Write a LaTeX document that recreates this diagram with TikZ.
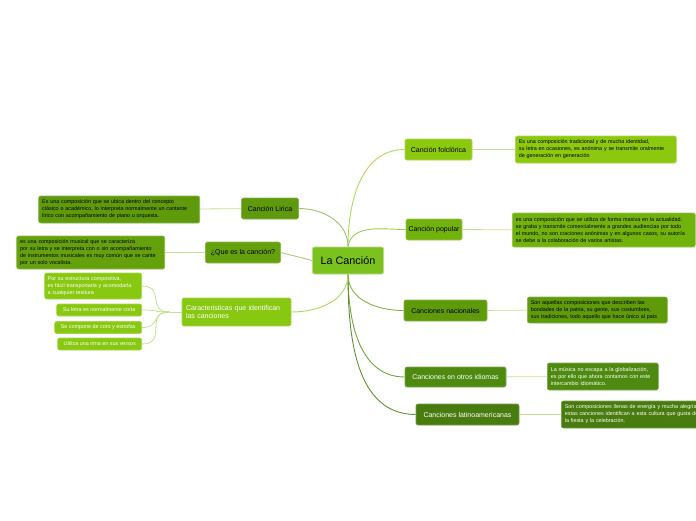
\documentclass[tikz,border=0pt]{standalone}
\usepackage{fontspec}
\setmainfont{Liberation Sans}
\usetikzlibrary{calc}
\definecolor{chub}{HTML}{7BC21E}
\definecolor{cfol}{HTML}{8CC80E}
\definecolor{cpop}{HTML}{72B20C}
\definecolor{cnac}{HTML}{5E9A0A}
\definecolor{cotr}{HTML}{4E8A10}
\definecolor{clat}{HTML}{487C0E}
\definecolor{clir}{HTML}{5E9A0C}
\definecolor{cque}{HTML}{65A10C}
\definecolor{ccar}{HTML}{88C810}
\definecolor{clnk}{HTML}{A6D462}
\tikzset{
 hub/.style={rectangle, rounded corners=2pt, draw=chub!55!white, line width=0.8pt, fill=chub,
 minimum width=71pt, minimum height=27pt, inner sep=0pt, font=\fontsize{10.8}{12}\selectfont},
 br/.style={rectangle, rounded corners=2pt, draw=#1!75!white, line width=0.6pt, fill=#1,
 minimum height=21pt, inner sep=0pt, align=center, font=\fontsize{7}{8.5}\selectfont},
 desc/.style={rectangle, rounded corners=2pt, draw=#1!75!white, line width=0.6pt, fill=#1,
 inner xsep=3.5pt, inner ysep=2pt, align=left, font=\fontsize{5.4}{7}\selectfont},
 sub/.style={rectangle, rounded corners=2pt, draw=ccar!75!white, line width=0.6pt, fill=ccar,
 text=white, inner xsep=3pt, inner ysep=2pt, align=left, font=\fontsize{5.4}{7}\selectfont},
 ln/.style={draw=#1, line width=0.9pt},
 lnd/.style={draw=clnk!70!white, line width=0.8pt},
}
\begin{document}
\begin{tikzpicture}[x=1pt, y=-1pt]
 \useasboundingbox (0,0) rectangle (696,520);
 \clip (0,0) rectangle (696,520);
 % centre
 \node[hub] (C) at (348,260.5) {La Canción};
 % right branches
 \node[br=cfol, minimum width=67pt] (F) at (438.5,149.5) {Canción folclórica};
 \node[br=cpop, minimum width=56pt] (P) at (434,229.5) {Canción popular};
 \node[br=cnac, minimum width=83pt] (N) at (445.5,310.5) {Canciones nacionales};
 \node[br=cotr, minimum width=101pt, minimum height=20pt, text=white] (O) at (455.5,377) {Canciones en otros idiomas};
 \node[br=clat, minimum width=103pt, text=white] (L) at (467.5,414.5) {Canciones latinoamericanas};
 % right descriptions
 \node[desc=cfol, text width=154pt, minimum height=27pt, anchor=west] (FD) at (515,149.5)
 {Es una composición tradicional y de mucha identidad,\\su letra en ocasiones, es anónima y se transmite oralmente\\de generación en generación};
 \node[desc=cpop, text width=176pt, minimum height=34pt, anchor=west] (PD) at (512,230)
 {es una composición que se utiliza de forma masiva en la actualidad.\\se graba y transmite comercialmente a grandes audiencias por todo\\el mundo, no son craciones anónimas y en algunos casos, su autoría\\se debe a la colaboración de varios artistas.};
 \node[desc=cnac, text width=133pt, minimum height=26pt, anchor=west] (ND) at (527,310)
 {Son aquellas composiciones que describen las\\bondades de la patria, su gente, sus costumbres,\\sus tradiciones, todo aquello que hace único al país};
 \node[desc=cotr, text width=104pt, minimum height=27pt, text=white, anchor=west] (OD) at (547,376.5)
 {La música no escapa a la globalización,\\es por ello que ahora contamos con este\\intercambio idiomático.};
 \node[desc=clat, text width=150pt, minimum height=27pt, text=white, anchor=west] (LD) at (561,414.5)
 {Son composiciones llenas de energía y mucha alegría,\\estas canciones identifican a esta cultura que gusta de\\la fiesta y la celebración.};
 % left branches
 \node[br=clir, minimum width=57pt] (K) at (270,208.5) {Canción Lirica};
 \node[br=cque, minimum width=75pt] (Q) at (243,252.5) {¿Que es la canción?};
 \node[br=ccar, minimum width=109pt, minimum height=28pt, text=white, align=left,
 text width=101pt, inner xsep=4pt] (R) at (236.5,312) {Caracteristicas que identifican\\las canciones};
 % left descriptions
 \node[desc=clir, text width=154pt, minimum height=27pt, anchor=east] (KD) at (200,209.5)
 {Es una composición que se ubica dentro del concepto\\clásico o académico, lo interpreta normalmente un cantante\\lírico con acompañamiento de piano u orquesta.};
 \node[desc=cque, text width=141pt, minimum height=33pt, anchor=east] (QD) at (165,252.5)
 {es una composición musical que se caracteriza\\por su letra y se interpreta con o sin acompañamiento\\de instrumentos musicales es muy común que se cante\\por un solo vocalista.};
 % features
 \node[sub, text width=91pt, minimum height=26pt, anchor=east] (R1) at (142,286)
 {Por su estructura compositiva,\\es fácil transportarla y acomodarla\\a cualquier tesitura};
 \node[sub, minimum width=85pt, minimum height=12pt, inner ysep=1pt, anchor=east] (R2) at (142,310) {Su letra es normalmente corta};
 \node[sub, minimum width=87pt, minimum height=12pt, inner ysep=1pt, anchor=east] (R3) at (142,327.5) {Se compone de coro y estrofas};
 \node[sub, minimum width=84pt, minimum height=12pt, inner ysep=1pt, anchor=east] (R4) at (142,344) {Utiliza una rima en sus versos};

 % links from the centre
 \draw[ln=cfol!70!white] (C.north) to[out=90,in=180] (F.west);
 \draw[ln=cpop!70!white] (C.north) to[out=80,in=180] (P.west);
 \draw[ln=cnac!75!white] (C.south) to[out=270,in=180] (N.west);
 \draw[ln=cotr!80!white] (C.south) to[out=270,in=180] (O.west);
 \draw[ln=clat!85!white] (C.south) to[out=270,in=180] (L.west);
 \draw[ln=clir!60!white] (K.east) to[out=0,in=90] (C.north);
 \draw[ln=cque!55!white] (Q.east) -- (C.west);
 \draw[ln=ccar!70!white] (R.east) to[out=0,in=270] (C.south);
 % links to descriptions
 \draw[lnd] (F) -- (FD); \draw[lnd] (P) -- (PD);
 \draw[lnd] (N) -- (ND); \draw[lnd] (O) -- (OD);
 \draw[lnd] (L) -- (LD);
 \draw[lnd] (K) -- (KD); \draw[lnd] (Q) -- (QD);
 % feature links
 \draw[lnd] (R.west) -- ++(-12,0) coordinate (Rj);
 \foreach \s in {R1,R2,R3,R4}
 \draw[lnd] (Rj) to[out=180,in=0,looseness=1.6] (\s.east);
\end{tikzpicture}
\end{document}
